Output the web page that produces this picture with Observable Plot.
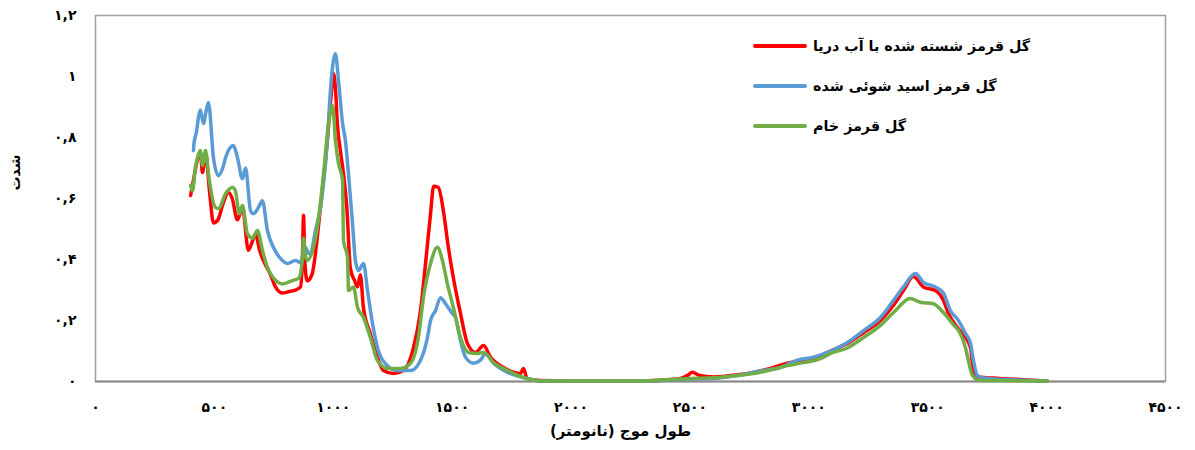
<!DOCTYPE html>
<html>
<head>
<meta charset="utf-8">
<script src="https://cdn.jsdelivr.net/npm/d3@7"></script>
<script src="https://cdn.jsdelivr.net/npm/@observablehq/plot@0.6"></script>
<style>
  body { margin: 0; background: white; }
  #wrap { position: relative; width: 1195px; height: 450px; font-family: "DejaVu Sans", sans-serif; }
  #legend { position: absolute; left: 753px; top: 26px; font-weight: bold; font-size: 14.3px; }
  .row { height: 40px; display: flex; align-items: center; }
  .sw { width: 54px; height: 4px; border-radius: 2px; margin-right: 6px; }
  .lbl { direction: rtl; unicode-bidi: embed; }
</style>
</head>
<body>
<div id="wrap"></div>
<script>
const seriesNames = ["گل قرمز شسته شده با آب دریا", "گل قرمز اسید شوئی شده", "گل قرمز خام"];
const seriesColors = ["#FF0000", "#5B9BD5", "#70AD47"];
const xTitle = "طول موج (نانومتر)";
const yTitle = "شدت";
const xTicks = [0, 500, 1000, 1500, 2000, 2500, 3000, 3500, 4000, 4500];
const yTicks = [0, 0.2, 0.4, 0.6, 0.8, 1, 1.2];

const red = [[400,0.61],[412,0.66],[433,0.74],[441,0.75],[450,0.685],[463,0.75],[480,0.62],[496,0.52],[515,0.53],[535,0.58],[559,0.62],[575,0.60],[597,0.53],[618,0.57],[643,0.43],[660,0.46],[673,0.485],[690,0.43],[706,0.397],[736,0.35],[757,0.31],[786,0.29],[815,0.295],[841,0.30],[862,0.31],[870,0.40],[875,0.545],[880,0.40],[890,0.33],[910,0.35],[946,0.57],[975,0.79],[990,0.93],[1001,1.01],[1010,0.95],[1017,0.846],[1030,0.757],[1043,0.68],[1057,0.57],[1072,0.37],[1090,0.33],[1102,0.31],[1114,0.35],[1127,0.24],[1156,0.157],[1185,0.08],[1211,0.036],[1253,0.026],[1295,0.036],[1337,0.11],[1367,0.233],[1388,0.387],[1409,0.55],[1422,0.64],[1442,0.636],[1463,0.56],[1484,0.44],[1505,0.34],[1535,0.223],[1564,0.125],[1598,0.095],[1632,0.118],[1661,0.08],[1716,0.046],[1787,0.026],[1800,0.043],[1815,0.01],[1871,0.003],[2000,0.002],[2300,0.002],[2450,0.008],[2490,0.02],[2510,0.03],[2540,0.02],[2600,0.015],[2700,0.022],[2767,0.03],[2838,0.043],[2910,0.06],[2977,0.07],[3049,0.085],[3091,0.1],[3162,0.125],[3230,0.16],[3301,0.2],[3356,0.25],[3398,0.298],[3440,0.344],[3482,0.31],[3532,0.298],[3566,0.266],[3587,0.223],[3625,0.177],[3659,0.144],[3680,0.11],[3692,0.036],[3709,0.016],[3800,0.01],[3900,0.006],[4003,0.002]];

const blue = [[412,0.757],[414,0.78],[425,0.82],[433,0.866],[441,0.89],[454,0.846],[466,0.89],[475,0.915],[496,0.734],[517,0.675],[535,0.70],[547,0.734],[580,0.774],[597,0.734],[618,0.665],[631,0.70],[652,0.56],[664,0.55],[685,0.57],[702,0.593],[723,0.495],[748,0.44],[786,0.397],[807,0.387],[841,0.397],[862,0.39],[883,0.44],[896,0.42],[904,0.42],[925,0.495],[946,0.57],[975,0.79],[988,0.954],[1000,1.05],[1009,1.075],[1022,0.987],[1039,0.846],[1051,0.79],[1064,0.68],[1081,0.518],[1093,0.397],[1106,0.364],[1127,0.387],[1144,0.298],[1165,0.19],[1190,0.10],[1228,0.052],[1270,0.036],[1325,0.036],[1367,0.07],[1396,0.144],[1409,0.2],[1430,0.233],[1451,0.275],[1472,0.255],[1501,0.223],[1514,0.21],[1535,0.134],[1556,0.08],[1590,0.06],[1619,0.07],[1640,0.09],[1674,0.06],[1733,0.03],[1817,0.01],[1871,0.002],[2300,0.002],[2500,0.008],[2600,0.01],[2700,0.02],[2800,0.035],[2880,0.046],[2952,0.07],[3020,0.08],[3091,0.1],[3162,0.128],[3230,0.167],[3301,0.21],[3356,0.266],[3398,0.31],[3448,0.354],[3482,0.325],[3532,0.31],[3566,0.29],[3595,0.233],[3629,0.2],[3659,0.157],[3680,0.125],[3692,0.07],[3709,0.02],[3750,0.01],[4003,0.002]];

const green = [[400,0.643],[408,0.625],[420,0.70],[429,0.734],[441,0.757],[450,0.708],[463,0.757],[475,0.68],[505,0.57],[517,0.567],[547,0.616],[576,0.636],[588,0.626],[605,0.55],[618,0.577],[639,0.485],[660,0.47],[681,0.495],[702,0.43],[723,0.374],[748,0.34],[786,0.32],[828,0.331],[854,0.338],[870,0.40],[875,0.47],[880,0.43],[890,0.397],[933,0.505],[959,0.68],[980,0.846],[997,0.905],[1009,0.79],[1022,0.715],[1039,0.66],[1043,0.462],[1060,0.407],[1064,0.298],[1085,0.31],[1102,0.243],[1127,0.21],[1156,0.144],[1185,0.07],[1228,0.043],[1283,0.043],[1325,0.06],[1358,0.144],[1379,0.275],[1409,0.387],[1438,0.44],[1459,0.397],[1480,0.32],[1505,0.243],[1535,0.144],[1569,0.095],[1606,0.092],[1632,0.095],[1674,0.062],[1733,0.036],[1800,0.013],[1871,0.002],[2300,0.002],[2500,0.01],[2600,0.012],[2700,0.02],[2767,0.026],[2850,0.04],[2910,0.052],[2977,0.062],[3049,0.075],[3091,0.092],[3162,0.11],[3230,0.144],[3301,0.184],[3356,0.226],[3427,0.272],[3469,0.26],[3524,0.255],[3566,0.226],[3604,0.19],[3637,0.157],[3659,0.11],[3671,0.069],[3688,0.02],[3720,0.003],[4003,0.002]];

const faDigits = "۰۱۲۳۴۵۶۷۸۹";
const fa = v => String(Math.round(v * 10) / 10).replace(/\d/g, d => faDigits[d]).replace(".", ",");

const toObj = (arr, s) => arr.map(([w, v]) => ({w, v, s}));
const allSeries = [red, blue, green];

const lineMarks = allSeries.map((arr, i) =>
  Plot.line(toObj(arr, i), {x: "w", y: "v", stroke: seriesColors[i], strokeWidth: 3.5, strokeLinejoin: "round", strokeLinecap: "round", curve: "monotone-x"})
);

const chart = Plot.plot({
  width: 1195,
  height: 450,
  marginLeft: 95,
  marginRight: 30,
  marginTop: 15,
  marginBottom: 69,
  x: {domain: [0, 4500]},
  y: {domain: [0, 1.2]},
  style: {fontFamily: "DejaVu Sans", fontWeight: "bold", fontSize: "14px", color: "#000", background: "white"},
  marks: [
    Plot.frame({stroke: "#a0a0a0", strokeWidth: 1.5}),
    Plot.axisX({ticks: xTicks, tickFormat: fa, tickSize: 0, tickPadding: 21, label: null, fontSize: 14}),
    Plot.axisY({ticks: yTicks, tickFormat: fa, tickSize: 0, tickPadding: 19, label: null, fontSize: 14}),
    Plot.ruleY([0], {stroke: "#888", strokeWidth: 2}),
    ...lineMarks,
    Plot.text([xTitle], {frameAnchor: "bottom", dy: 54, dx: -10, fontSize: 15, fontWeight: "bold"}),
    Plot.text([yTitle], {frameAnchor: "left", dx: -80, dy: -8, rotate: -90, fontSize: 14, fontWeight: "bold"})
  ]
});

const wrap = document.getElementById("wrap");
wrap.appendChild(chart);

const legend = document.createElement("div");
legend.id = "legend";
seriesNames.forEach((name, i) => {
  const row = document.createElement("div");
  row.className = "row";
  const sw = document.createElement("div");
  sw.className = "sw";
  sw.style.background = seriesColors[i];
  const lbl = document.createElement("span");
  lbl.className = "lbl";
  lbl.textContent = name;
  row.appendChild(sw);
  row.appendChild(lbl);
  legend.appendChild(row);
});
wrap.appendChild(legend);
</script>
</body>
</html>
